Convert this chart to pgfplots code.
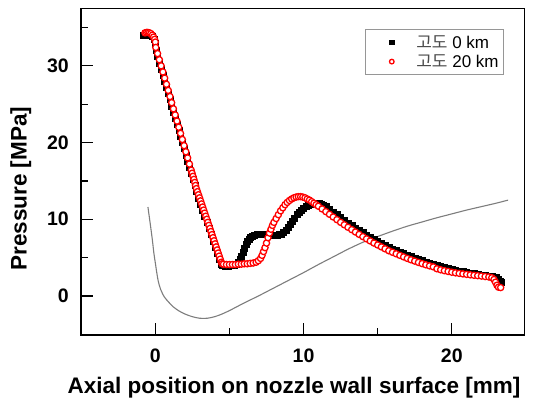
\documentclass[border=0pt]{standalone}
\usepackage{pgfplots}
\pgfplotsset{compat=1.18}
\usepackage{fontspec}
\setmainfont{Liberation Sans}
\newfontfamily\kr{Noto Sans CJK KR}
\definecolor{curvegray}{RGB}{125,125,125}
\definecolor{legframe}{RGB}{150,150,150}
\begin{document}
\begin{tikzpicture}
\begin{axis}[
  name=ax,
  scale only axis,
  width=443bp, height=326.7bp,
  xmin=-5, xmax=24.9, ymin=-5.1, ymax=37.5,
  xtick={0,10,20}, ytick={0,10,20,30},
  minor xtick={5,15}, minor ytick={-5,5,15,25,35},
  tick align=inside,
  xtick pos=bottom, ytick pos=left,
  major tick length=12bp, minor tick length=7bp,
  axis line style={line width=1.6bp},
  every tick/.style={black, line width=1.3bp},
  tick label style={font=\fontsize{19.5bp}{21bp}\selectfont\bfseries},
  /pgf/number format/assume math mode=true,
  xticklabel style={yshift=-10bp},
  yticklabel style={xshift=-9bp},
  xlabel={Axial position on nozzle wall surface [mm]},
  ylabel={Pressure [MPa]},
  label style={font=\fontsize{22.5bp}{24bp}\selectfont\bfseries},
  xlabel style={at={(axis description cs:0.480,-0.180)}, anchor=base},
  ylabel style={at={(axis description cs:-0.123,0.448)}, anchor=base},
  legend style={at={(axis description cs:0.952,0.936)}, anchor=north east,
    draw=legframe, line width=0.6bp, inner xsep=3bp, inner ysep=4.5bp,
    font=\fontsize{17bp}{19bp}\selectfont, row sep=2.5bp,
    nodes={inner sep=1.2bp}},
  legend cell align=left,
  legend image code/.code={\path (0bp,0bp) (46bp,0bp); \draw[#1, mark size=2.3bp] plot coordinates {(23bp,0bp)};},
]
% altitude 0 km (black squares)
\addplot[only marks, mark=square*, mark size=3.0bp, draw=black, fill=black] coordinates {
(-0.8,34.0)(-0.65,34.05)(-0.5,34.05)(-0.35,34.0)(-0.2,33.8)(-0.1,33.5)(0.0,33.0)
(0.03,32.0)(0.15,31.2)(0.27,30.4)(0.39,29.6)(0.51,28.8)(0.63,28.0)(0.75,27.2)(0.87,26.4)
(0.99,25.6)(1.10,24.8)(1.22,24.0)(1.34,23.2)(1.46,22.4)(1.58,21.6)(1.70,20.8)(1.82,20.0)
(1.94,19.2)(2.06,18.4)(2.18,17.6)(2.30,16.8)(2.42,16.0)(2.54,15.2)(2.66,14.4)(2.77,13.6)
(2.91,12.8)(3.05,12.0)(3.19,11.2)(3.33,10.4)(3.47,9.6)(3.61,8.8)(3.75,8.0)(3.89,7.2)
(4.03,6.4)(4.17,5.6)(4.31,4.8)(4.42,4.1)(4.5,3.95)
(4.7,3.9)(4.9,3.9)(5.1,3.95)(5.3,4.0)(5.45,4.1)(5.6,4.4)(5.7,4.8)(5.8,5.2)(5.9,5.7)
(6.0,6.2)(6.1,6.7)(6.2,7.1)(6.3,7.4)(6.4,7.65)(6.55,7.85)(6.7,7.95)(6.85,8.0)(7.0,8.05)
(7.15,8.1)(7.3,8.1)(7.45,8.05)(7.6,8.0)(7.75,7.95)(7.9,7.95)(8.05,7.95)(8.2,7.95)(8.35,8.0)
(8.5,8.1)(8.65,8.3)(8.8,8.6)(8.95,9.0)(9.1,9.4)(9.25,9.8)(9.4,10.2)(9.55,10.6)(9.7,10.9)
(9.85,11.2)(10.0,11.45)(10.15,11.65)(10.3,11.8)(10.45,11.95)(10.6,12.05)(10.75,12.1)
(10.9,12.1)(11.05,12.05)(11.2,11.95)(11.35,11.8)(11.5,11.65)(11.75,11.3)(12.0,10.95)
(12.25,10.6)(12.5,10.25)(12.75,9.9)(13.0,9.55)(13.25,9.22)(13.5,8.9)(13.75,8.58)(14.0,8.27)
(14.25,7.97)(14.5,7.68)(14.75,7.4)(15.0,7.13)(15.25,6.87)(15.5,6.62)(15.75,6.38)(16.0,6.15)
(16.25,5.93)(16.5,5.72)(16.75,5.52)(17.0,5.32)(17.25,5.13)(17.5,4.95)(17.75,4.78)(18.0,4.62)
(18.25,4.47)(18.5,4.32)(18.75,4.18)(19.0,3.95)(19.25,3.82)(19.5,3.7)(19.75,3.58)(20.0,3.47)
(20.25,3.37)(20.5,3.27)(20.75,3.17)(21.0,3.08)(21.25,3.0)(21.5,2.92)(21.75,2.84)(22.0,2.77)
(22.25,2.7)(22.5,2.62)(22.75,2.53)(23.0,2.4)(23.15,2.2)(23.3,1.95)(23.35,1.8)
};
\addlegendentry{{\kr\color{black!70}고도} 0 km}
% altitude 20 km (red circles)
\addplot[only marks, mark=*, mark size=3.1bp, mark options={draw=red, fill=white, line width=1.3bp}] coordinates {
(-0.7,34.3)(-0.6,34.35)(-0.5,34.35)(-0.4,34.3)(-0.3,34.2)(-0.2,34.0)(-0.12,33.75)(-0.05,33.45)
(0.0,33.1)(0.03,32.4)(0.15,31.6)(0.27,30.8)(0.39,30.0)(0.51,29.2)(0.63,28.4)(0.75,27.6)
(0.87,26.8)(0.99,26.0)(1.10,25.2)(1.22,24.4)(1.34,23.6)(1.46,22.8)(1.58,22.0)(1.70,21.2)
(1.82,20.4)(1.94,19.6)(2.06,18.8)(2.18,18.0)(2.30,17.2)(2.42,16.4)(2.48,16.0)(2.54,15.6)
(2.60,15.2)(2.66,14.8)(2.71,14.4)(2.77,14.0)(2.84,13.6)(2.91,13.2)(2.98,12.8)(3.05,12.4)
(3.12,12.0)(3.19,11.6)(3.26,11.2)(3.33,10.8)(3.40,10.4)(3.47,10.0)(3.54,9.6)(3.61,9.2)
(3.68,8.8)(3.75,8.4)(3.82,8.0)(3.89,7.6)(3.96,7.2)(4.03,6.8)(4.10,6.4)(4.17,6.0)(4.24,5.6)
(4.31,5.2)(4.38,4.8)(4.45,4.4)(4.5,4.2)
(4.6,4.15)(4.8,4.1)(5.0,4.1)(5.2,4.1)(5.4,4.1)(5.6,4.15)(5.8,4.15)(6.0,4.2)(6.2,4.2)
(6.4,4.25)(6.6,4.3)(6.8,4.4)(6.95,4.6)(7.1,4.9)(7.2,5.3)(7.3,5.8)(7.4,6.3)(7.5,6.9)
(7.6,7.6)(7.7,8.2)(7.8,8.7)(7.9,9.2)(8.0,9.6)(8.15,10.1)(8.3,10.6)(8.45,11.1)(8.6,11.5)
(8.75,11.9)(8.9,12.2)(9.05,12.45)(9.2,12.65)(9.35,12.8)(9.5,12.9)(9.65,12.95)(9.8,12.95)
(9.95,12.9)(10.1,12.8)(10.25,12.65)(10.4,12.5)(10.55,12.3)(10.7,12.1)(10.85,11.9)(11.0,11.7)
(11.25,11.35)(11.5,11.0)(11.75,10.65)(12.0,10.3)(12.25,9.95)(12.5,9.6)(12.75,9.28)(13.0,8.96)
(13.25,8.65)(13.5,8.34)(13.75,8.03)(14.0,7.74)(14.25,7.45)(14.5,7.17)(14.75,6.9)(15.0,6.65)
(15.25,6.4)(15.5,6.15)(15.75,5.9)(16.0,5.7)(16.25,5.5)(16.5,5.3)(16.75,5.1)(17.0,4.9)
(17.25,4.72)(17.5,4.55)(17.75,4.38)(18.0,4.22)(18.25,4.07)(18.5,3.93)(18.75,3.8)(19.0,3.55)
(19.25,3.42)(19.5,3.3)(19.75,3.2)(20.0,3.1)(20.25,3.02)(20.5,2.95)(20.75,2.88)(21.0,2.82)
(21.25,2.76)(21.5,2.7)(21.75,2.65)(22.0,2.6)(22.25,2.54)(22.5,2.48)(22.7,2.38)(22.85,2.15)
(22.95,1.8)(23.05,1.4)(23.15,1.15)(23.3,1.1)
};
\addlegendentry{{\kr\color{black!70}고도} 20 km}
% gray curve
\addplot[curvegray, line width=1.1bp, smooth, forget plot] coordinates {
(-0.5,11.6)(-0.35,9.5)(-0.2,7.3)(-0.1,5.6)(0.0,4.3)(0.1,3.0)(0.2,1.9)(0.35,0.9)(0.6,-0.1)
(0.9,-0.8)(1.2,-1.4)(1.6,-1.95)(2.0,-2.35)(2.5,-2.7)(3.0,-2.9)(3.5,-2.9)(4.0,-2.7)
(4.5,-2.35)(5.0,-1.9)(5.5,-1.4)(6.0,-0.9)(7.0,0.05)(8.0,1.05)(9.0,2.05)(10.0,3.05)
(11.0,4.1)(12.0,5.1)(13.0,6.1)(14.0,7.0)(15.0,7.75)(16.0,8.45)(17.0,9.1)(18.0,9.65)
(19.0,10.2)(20.0,10.7)(21.0,11.2)(22.0,11.65)(23.0,12.1)(23.8,12.5)
};
\end{axis}
\path ([xshift=-81.2bp,yshift=-69bp]ax.south west) rectangle ([xshift=10.6bp,yshift=8.3bp]ax.north east);
\end{tikzpicture}
\end{document}
